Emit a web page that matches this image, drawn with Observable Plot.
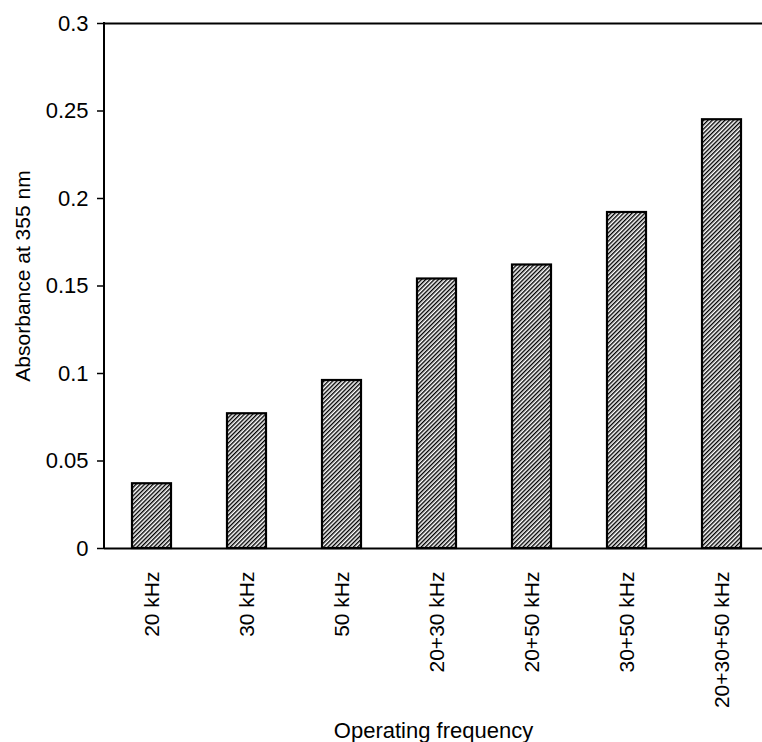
<!DOCTYPE html>
<html><head><meta charset="utf-8">
<script src="https://cdn.jsdelivr.net/npm/d3@7"></script>
<script src="https://cdn.jsdelivr.net/npm/@observablehq/plot@0.6"></script>
<style>body{margin:0;background:#fff;overflow:hidden} svg{display:block}</style>
</head><body><div id="chart"></div>
<script>
const categories = ["20 kHz","30 kHz","50 kHz","20+30 kHz","20+50 kHz","30+50 kHz","20+30+50 kHz"];
const absorbance = [0.037,0.077,0.096,0.154,0.162,0.192,0.245];
const yTicks = [0,0.05,0.1,0.15,0.2,0.25,0.3];
const yTickLabels = ["0","0.05","0.1","0.15","0.2","0.25","0.3"];
const xTitle = "Operating frequency";
const yTitle = "Absorbance at 355 nm";
const data = categories.map((c,i)=>({c, v: absorbance[i]}));

const chart = Plot.plot({
  width: 762, height: 742,
  marginLeft: 104, marginRight: 0, marginTop: 23, marginBottom: 194,
  style: {fontFamily: "'Liberation Sans', Arial, sans-serif", fontSize: "21px", color: "#000", background: "#fff"},
  x: {domain: categories, range: [104, 769], paddingInner: 0.59, paddingOuter: 0.295, label: null},
  y: {domain: [0, 0.3], label: null},
  marks: [
    Plot.ruleY([0.3], {stroke: "#000", strokeWidth: 2}),
    Plot.barY(data, {x: "c", y: "v", fill: "url(#hatch)", stroke: "#000", strokeWidth: 2.2}),
    Plot.ruleY([0], {stroke: "#000", strokeWidth: 2}),
    Plot.axisY({ticks: yTicks, tickFormat: d => yTickLabels[yTicks.indexOf(d)], tickSize: 7, tickPadding: 9, strokeWidth: 1.5, label: null, fontSize: 22}),
    Plot.axisX({tickRotate: -90, tickSize: 0, tickPadding: 23, label: null, fontSize: 21}),
    Plot.text([yTitle], {frameAnchor: "left", rotate: -90, dx: -81, dy: -10, lineAnchor: "middle", textAnchor: "middle", fontSize: 21, fill: "#000"}),
    Plot.text([xTitle], {frameAnchor: "bottom", dy: 182, lineAnchor: "middle", textAnchor: "middle", fontSize: 22, fill: "#000"})
  ]
});

const svg = d3.select(chart);
const defs = svg.insert("defs", ":first-child");
const pat = defs.append("pattern").attr("id", "hatch").attr("patternUnits", "userSpaceOnUse")
  .attr("width", 3).attr("height", 3).attr("patternTransform", "rotate(45)");
pat.append("rect").attr("width", 3).attr("height", 3).attr("fill", "#fff");
pat.append("line").attr("x1", 0.7).attr("y1", 0).attr("x2", 0.7).attr("y2", 3).attr("stroke", "#000").attr("stroke-width", 1.4);

const y = chart.scale("y");
svg.append("line").attr("x1", 104).attr("x2", 104).attr("y1", y.apply(0) + 1).attr("y2", y.apply(0.3) - 1)
  .attr("stroke", "#000").attr("stroke-width", 2);

document.getElementById("chart").appendChild(chart);
</script>
</body></html>
